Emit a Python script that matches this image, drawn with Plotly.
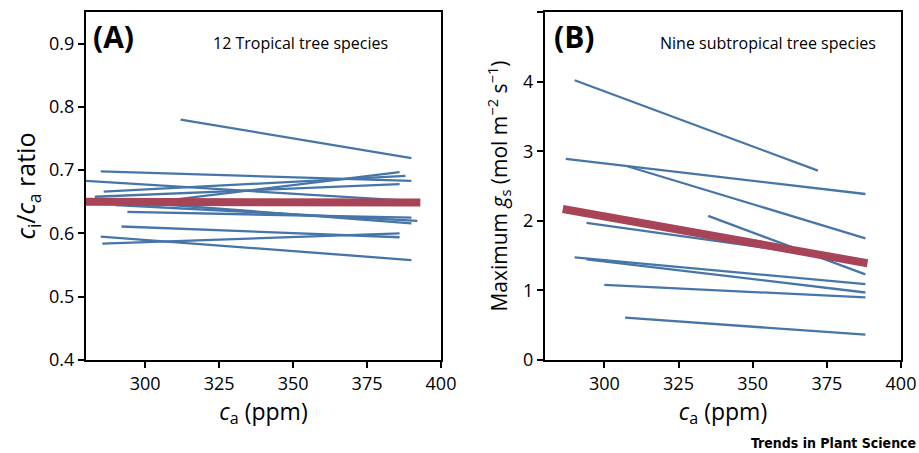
import plotly.graph_objects as go

# Panel A: 12 tropical tree species, ci/ca ratio (start/end of each fitted line)
a_x_start = [312, 285, 280, 286, 283, 300, 294, 290, 300, 292, 285, 285.5]
a_x_end   = [390, 390, 391, 388, 386, 386, 390, 392, 390, 386, 390, 386]
a_y_start = [0.780, 0.698, 0.683, 0.666, 0.658, 0.648, 0.634, 0.645, 0.648, 0.611, 0.595, 0.584]
a_y_end   = [0.719, 0.683, 0.651, 0.691, 0.678, 0.697, 0.625, 0.620, 0.616, 0.594, 0.558, 0.600]
a_mean_x = [280, 393]
a_mean_y = [0.650, 0.649]

# Panel B: nine subtropical tree species, maximum gs
b_x_start = [290, 287, 308, 335, 294, 290, 294, 300, 307]
b_x_end   = [372, 388, 388, 388, 388, 388, 388, 388, 388]
b_y_start = [4.02, 2.89, 2.78, 2.07, 1.97, 1.475, 1.447, 1.078, 0.608]
b_y_end   = [2.72, 2.385, 1.748, 1.23, 1.41, 1.09, 0.97, 0.90, 0.364]
b_mean_x = [286, 388.7]
b_mean_y = [2.17, 1.39]

x_ticks = [300, 325, 350, 375, 400]
a_y_ticks = [0.4, 0.5, 0.6, 0.7, 0.8, 0.9]
b_y_ticks = [0, 1, 2, 3, 4, 5]

BLUE = "#4675a8"
RED = "#a84457"
FONT = "Open Sans"

fig = go.Figure()
for xs, xe, ys, ye in zip(a_x_start, a_x_end, a_y_start, a_y_end):
    fig.add_trace(go.Scatter(x=[xs, xe], y=[ys, ye], mode="lines",
                             line=dict(color=BLUE, width=2.3), xaxis="x", yaxis="y",
                             showlegend=False, hoverinfo="skip"))
fig.add_trace(go.Scatter(x=a_mean_x, y=a_mean_y, mode="lines",
                         line=dict(color=RED, width=8), xaxis="x", yaxis="y",
                         showlegend=False, hoverinfo="skip"))
for xs, xe, ys, ye in zip(b_x_start, b_x_end, b_y_start, b_y_end):
    fig.add_trace(go.Scatter(x=[xs, xe], y=[ys, ye], mode="lines",
                             line=dict(color=BLUE, width=2.3), xaxis="x2", yaxis="y2",
                             showlegend=False, hoverinfo="skip"))
fig.add_trace(go.Scatter(x=b_mean_x, y=b_mean_y, mode="lines",
                         line=dict(color=RED, width=8), xaxis="x2", yaxis="y2",
                         showlegend=False, hoverinfo="skip"))

W, H = 919, 453
ydom = [(H - 360) / H, (H - 12) / H]
axis_common = dict(showline=True, linecolor="black", linewidth=2, mirror=True,
                   ticks="outside", ticklen=6, tickwidth=1.5, tickcolor="black",
                   showgrid=False, zeroline=False, automargin=False,
                   tickfont=dict(family=FONT, size=18, color="black"))

fig.update_layout(
    width=W, height=H, margin=dict(l=0, r=0, t=0, b=0),
    paper_bgcolor="white", plot_bgcolor="white",
    xaxis=dict(domain=[86 / W, 441 / W], range=[280, 400], tickvals=x_ticks,
               anchor="y",
               title=dict(text="<i>c</i><sub>a</sub> (ppm)", font=dict(family=FONT, size=23, color="black"), standoff=4),
               **axis_common),
    yaxis=dict(domain=ydom, range=[0.4, 0.95], tickvals=a_y_ticks,
               ticktext=[f"{v:.1f}" for v in a_y_ticks], anchor="x",
               title=dict(text="<i>c</i><sub>i</sub>/<i>c</i><sub>a</sub> ratio", font=dict(family=FONT, size=25, color="black"), standoff=6),
               **axis_common),
    xaxis2=dict(domain=[545 / W, 901 / W], range=[280, 400], tickvals=x_ticks,
                anchor="y2",
                title=dict(text="<i>c</i><sub>a</sub> (ppm)", font=dict(family=FONT, size=23, color="black"), standoff=4),
                **axis_common),
    yaxis2=dict(domain=ydom, range=[0, 5], tickvals=b_y_ticks, anchor="x2",
                title=dict(text="Maximum <i>g</i><sub>s</sub> (mol m<sup>−2</sup> s<sup>−1</sup>)", font=dict(family=FONT, size=21, color="black"), standoff=10),
                **axis_common),
)

ann = [
    dict(text="<b>(A)</b>", x=91 / W, y=(H - 37) / H, xanchor="left", yanchor="middle",
         font=dict(family=FONT, size=30, color="black")),
    dict(text="12 Tropical tree species", x=300 / W, y=(H - 43) / H, xanchor="center", yanchor="middle",
         font=dict(family=FONT, size=16, color="black")),
    dict(text="<b>(B)</b>", x=552 / W, y=(H - 37) / H, xanchor="left", yanchor="middle",
         font=dict(family=FONT, size=30, color="black")),
    dict(text="Nine subtropical tree species", x=768 / W, y=(H - 43) / H, xanchor="center", yanchor="middle",
         font=dict(family=FONT, size=16, color="black")),
    dict(text="<b>Trends in Plant Science</b>", x=918 / W, y=(H - 443) / H, xanchor="right", yanchor="middle",
         font=dict(family="Liberation Sans Narrow, DejaVu Sans Condensed, Liberation Sans", size=14, color="black")),
]
for a in ann:
    a.update(xref="paper", yref="paper", showarrow=False)
fig.update_layout(annotations=ann)

fig.write_html("out.html", config={"displayModeBar": False},
               post_script="document.body.style.margin='0px';")
